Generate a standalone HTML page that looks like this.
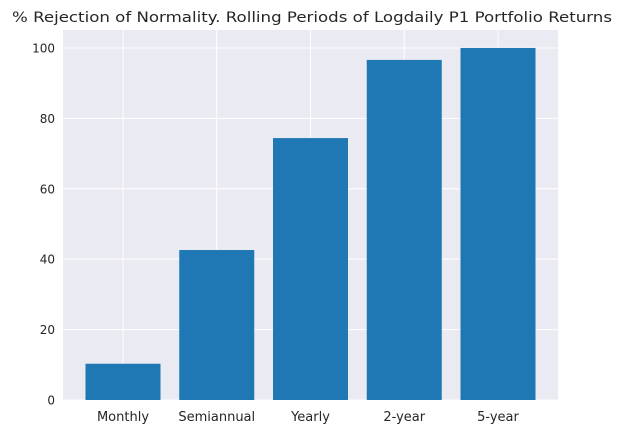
<!DOCTYPE html>
<html><head><meta charset="utf-8"><style>
body{margin:0;background:#fff;font-family:"DejaVu Sans","Liberation Sans",sans-serif;}
</style></head><body>
<svg id="chart" width="622" height="433" xmlns="http://www.w3.org/2000/svg"></svg>
<script>
const categories = ["Monthly","Semiannual","Yearly","2-year","5-year"];
const values = [10.3, 42.6, 74.4, 96.6, 100];
const yTicks = [0,20,40,60,80,100];
const titleText = "% Rejection of Normality. Rolling Periods of Logdaily P1 Portfolio Returns";

const svg = document.getElementById('chart');
const NS = "http://www.w3.org/2000/svg";
const L=63, R=558, T=30, B=400;
const yMin=0, yMax=105.1;
const xMin=-0.64, xMax=categories.length-1+0.64;
function xs(v){return L+(v-xMin)/(xMax-xMin)*(R-L);}
function ys(v){return B-(v-yMin)/(yMax-yMin)*(B-T);}
function mk(tag, attrs){const e=document.createElementNS(NS,tag);for(const k in attrs)e.setAttribute(k,attrs[k]);svg.appendChild(e);return e;}

const bg = mk('rect',{x:L,y:T,width:R-L,height:B-T,fill:'#eaeaf2'});



yTicks.forEach(t=>{
  const g = mk('line',{x1:L,x2:R,y1:ys(t),y2:ys(t),stroke:'#fff','stroke-width':1});
  
  
  const lb = mk('text',{x:L-8,y:ys(t)+4.5,'text-anchor':'end','font-size':'12',fill:'#262626'});
  lb.textContent=t;
  
  
});
categories.forEach((c,i)=>{
  const g = mk('line',{x1:xs(i),x2:xs(i),y1:T,y2:B,stroke:'#fff','stroke-width':1});
  
  
});
const bw = 0.8*(xs(1)-xs(0));
categories.forEach((c,i)=>{
  const b = mk('rect',{x:xs(i)-bw/2,y:ys(values[i]),width:bw,height:ys(0)-ys(values[i]),fill:'#1f77b4'});
  
  
  const lb = mk('text',{x:xs(i),y:B+21,'text-anchor':'middle','font-size':'13',fill:'#262626'});
  lb.textContent=c;
  
  
});
const tt = mk('text',{x:12,y:22,'font-size':'14',fill:'#262626',textLength:'600',lengthAdjust:'spacingAndGlyphs'});
tt.textContent=titleText;


</script>
</body></html>
